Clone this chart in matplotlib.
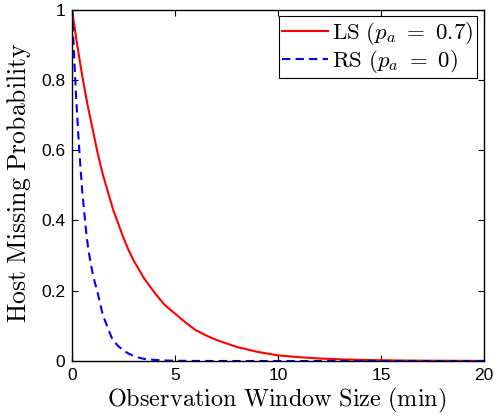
import matplotlib
matplotlib.use("Agg")
import matplotlib.pyplot as plt

plt.rcParams['mathtext.fontset'] = 'cm'
plt.rcParams['font.family'] = ['Liberation Sans', 'DejaVu Sans']

# Observation window size (min) and host missing probability
x_ls = [0, 0.25, 0.5, 0.75, 1, 1.25, 1.5, 1.75, 2, 2.25, 2.5, 2.75, 3, 3.25, 3.5, 3.75, 4,
        4.25, 4.5, 4.75, 5, 5.5, 6, 6.5, 7, 7.5, 8, 8.5, 9, 9.5, 10, 11, 12, 13, 14, 15,
        16, 17, 18, 19, 20]
ls_vals = [1.0, 0.90, 0.81, 0.73, 0.66, 0.59, 0.53, 0.48, 0.43, 0.39, 0.35, 0.315, 0.285,
           0.26, 0.235, 0.215, 0.195, 0.177, 0.16, 0.147, 0.135, 0.11, 0.088, 0.073, 0.06,
           0.05, 0.04, 0.033, 0.026, 0.021, 0.016, 0.011, 0.0072, 0.0048, 0.0032, 0.0021,
           0.0014, 0.0009, 0.0006, 0.0004, 0.0003]

x_rs = [0, 0.1, 0.2, 0.3, 0.4, 0.5, 0.6, 0.7, 0.8, 0.9, 1, 1.1, 1.2, 1.3, 1.4, 1.5, 1.6,
        1.7, 1.8, 1.9, 2, 2.25, 2.5, 2.75, 3, 3.25, 3.5, 3.75, 4, 4.5, 5, 6, 7, 8, 10, 15, 20]
rs_vals = [1.0, 0.87, 0.75, 0.65, 0.56, 0.48, 0.42, 0.36, 0.315, 0.28, 0.25, 0.225, 0.205,
           0.18, 0.155, 0.13, 0.115, 0.10, 0.085, 0.07, 0.058, 0.042, 0.03, 0.021, 0.014,
           0.0095, 0.006, 0.0045, 0.003, 0.0015, 0.0007, 0.0002, 0.0001, 0.0, 0.0, 0.0, 0.0]

labels = [r'$\mathrm{LS}\ (p_a\ =\ 0.7)$', r'$\mathrm{RS}\ (p_a\ =\ 0)$']
xticks = [0, 5, 10, 15, 20]
yticks = [0, 0.2, 0.4, 0.6, 0.8, 1]
ytick_labels = ['0', '0.2', '0.4', '0.6', '0.8', '1']

fig = plt.figure(figsize=(4.98, 4.16), dpi=100)
ax = fig.add_axes([72/498, 1 - 361/416, (484 - 72)/498, (361 - 9.5)/416])

ax.plot(x_ls, ls_vals, color='#ff0000', lw=1.5, label=labels[0])
ax.plot(x_rs, rs_vals, color='#0000ff', lw=1.5, dashes=(4, 2.5), label=labels[1])

ax.set_xlim(0, 20)
ax.set_ylim(0, 1)
ax.set_xticks(xticks)
ax.set_yticks(yticks)
ax.set_yticklabels(ytick_labels)
ax.tick_params(direction='in', top=True, right=True, length=4, width=0.8,
               labelsize=12.5, pad=5, colors='black')
for s in ax.spines.values():
    s.set_linewidth(1.0)

ax.set_xlabel(r'$\mathrm{Observation\ Window\ Size\ (min)}$', fontsize=17.5)
ax.set_ylabel(r'$\mathrm{Host\ Missing\ Probability}$', fontsize=18.5)
ax.xaxis.set_label_coords(0.496, -0.07)
ax.yaxis.set_label_coords(-0.095, 0.508)

leg = ax.legend(loc='upper right', fontsize=16.5, frameon=True, fancybox=False,
                edgecolor='black', framealpha=1, borderaxespad=0.3,
                handlelength=2.0, handletextpad=0.2, borderpad=0.15, labelspacing=0.05)
leg.get_frame().set_linewidth(0.8)

fig.savefig('out.png', dpi=100)
